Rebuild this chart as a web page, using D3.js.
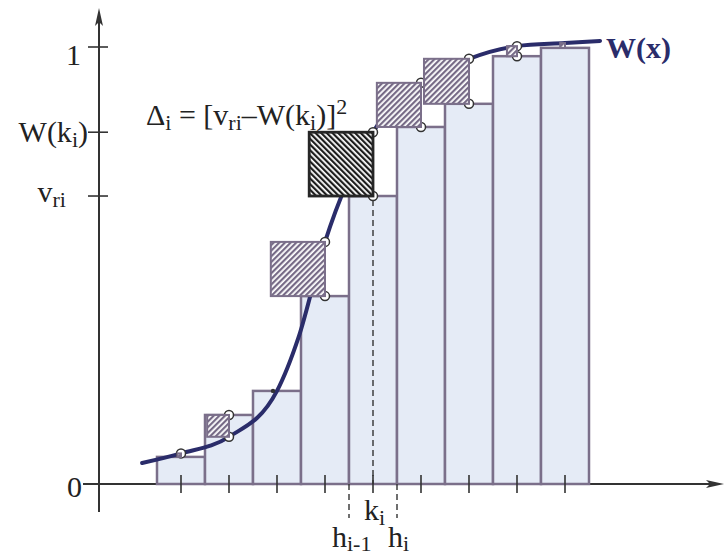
<!DOCTYPE html>
<html>
<head>
<meta charset="utf-8">
<script src="https://cdn.jsdelivr.net/npm/d3@7"></script>
<style>
  body { margin: 0; background: #fff; }
</style>
</head>
<body>
<div id="chart"></div>
<script>
// bar heights (empirical distribution v_r), one per interval h_{i-1}..h_i
var barValues = [0.062, 0.158, 0.213, 0.430, 0.659, 0.817, 0.870, 0.979, 0.998];
// W(x) read at the bar centres k_i
var curveAtCentres = [0.070, 0.108, 0.213, 0.554, 0.805, 0.918, 0.973, 1.002, 1.009];
// the whole W(x) line (x in interval units)
var curveX = [-0.31, 0.5, 1.5, 2.5, 2.95, 3.5, 4.5, 5.5, 6.5, 7.5, 8.5, 9.23];
var curveY = [0.048, 0.070, 0.108, 0.213, 0.336, 0.554, 0.805, 0.918, 0.973, 1.002, 1.009, 1.014];
var highlight = 4; // the i-th interval that is labelled

var w = 725, h = 557;

var svg = d3.select("#chart")
  .append("svg")
  .attr("width", w)
  .attr("height", h)
  .style("font-family", "'Liberation Serif', 'Times New Roman', serif");

var x = d3.scaleLinear().domain([0, 9]).range([157, 589]);
var y = d3.scaleLinear().domain([0, 1]).range([484, 47]);

var axisColor = "#333";
var barStroke = "#7b6f8a";
var barFill = "#e5ebf6";
var navy = "#2a2c6a";

// hatch patterns
var defs = svg.append("defs");
defs.append("pattern")
  .attr("id", "hatchLight")
  .attr("patternUnits", "userSpaceOnUse")
  .attr("width", 4).attr("height", 4)
  .attr("patternTransform", "rotate(45)")
  .call(function(p) {
    p.append("rect").attr("width", 4).attr("height", 4).attr("fill", "#fff");
    p.append("rect").attr("width", 2.2).attr("height", 4).attr("fill", "#766a86");
  });
defs.append("pattern")
  .attr("id", "hatchDark")
  .attr("patternUnits", "userSpaceOnUse")
  .attr("width", 4).attr("height", 4)
  .attr("patternTransform", "rotate(-45)")
  .call(function(p) {
    p.append("rect").attr("width", 4).attr("height", 4).attr("fill", "#fff");
    p.append("rect").attr("width", 2.2).attr("height", 4).attr("fill", "#1c1c1c");
  });

// axes
svg.append("line")
  .attr("x1", 83).attr("y1", y(0)).attr("x2", 716).attr("y2", y(0))
  .style("stroke", axisColor).style("stroke-width", 2);
svg.append("path")
  .attr("d", "M724," + y(0) + " L706," + (y(0) - 4) + " L710," + y(0) + " L706," + (y(0) + 4) + " Z")
  .style("fill", axisColor);
svg.append("line")
  .attr("x1", 99).attr("y1", 512).attr("x2", 99).attr("y2", 16)
  .style("stroke", axisColor).style("stroke-width", 2);
svg.append("path")
  .attr("d", "M99,8 L95,26 L99,22 L103,26 Z")
  .style("fill", axisColor);

// y ticks: 1, W(k_i), v_ri
var yTicks = [1, curveAtCentres[highlight], barValues[highlight]];
svg.append("g")
  .selectAll("line")
  .data(yTicks)
  .enter()
    .append("line")
    .attr("x1", 88).attr("x2", 108)
    .attr("y1", function(d) { return y(d); })
    .attr("y2", function(d) { return y(d); })
    .style("stroke", axisColor)
    .style("stroke-width", 1.6);

// bars
svg.append("g")
  .selectAll("rect")
  .data(barValues)
  .enter()
    .append("rect")
    .attr("x", function(d, i) { return x(i); })
    .attr("y", function(d) { return y(d); })
    .attr("width", x(1) - x(0))
    .attr("height", function(d) { return y(0) - y(d); })
    .style("fill", barFill)
    .style("stroke", barStroke)
    .style("stroke-width", 2.5);

// x ticks at the bar centres
svg.append("g")
  .selectAll("line")
  .data(barValues)
  .enter()
    .append("line")
    .attr("x1", function(d, i) { return x(i + 0.5); })
    .attr("x2", function(d, i) { return x(i + 0.5); })
    .attr("y1", y(0) - 9).attr("y2", y(0) + 9)
    .style("stroke", axisColor)
    .style("stroke-width", 1.6);

// dashed guides
var dashed = [
  { x: highlight, y1: y(0), y2: 518 },
  { x: highlight + 1, y1: y(0), y2: 518 },
  { x: highlight + 0.5, y1: y(barValues[highlight]) + 4, y2: y(0) }
];
svg.append("g")
  .selectAll("line")
  .data(dashed)
  .enter()
    .append("line")
    .attr("x1", function(d) { return x(d.x); })
    .attr("x2", function(d) { return x(d.x); })
    .attr("y1", function(d) { return d.y1; })
    .attr("y2", function(d) { return d.y2; })
    .style("stroke", axisColor)
    .style("stroke-width", 1.4)
    .style("stroke-dasharray", "6,4");

// W(x) curve
var line = d3.line()
  .x(function(d) { return x(d[0]); })
  .y(function(d) { return y(d[1]); })
  .curve(d3.curveMonotoneX);

svg.append("path")
  .datum(d3.zip(curveX, curveY))
  .attr("d", line)
  .style("fill", "none")
  .style("stroke", navy)
  .style("stroke-width", 4)
  .style("stroke-linecap", "round");

// one record per bar: bar top, curve value, square size in px
var diffs = barValues.map(function(v, i) {
  var wv = curveAtCentres[i];
  return { i: i, v: v, w: wv, size: Math.abs(y(v) - y(wv)) };
});

// small circles at bar top and curve
var pts = [];
diffs.forEach(function(d) {
  if (d.size > 6) {
    pts.push([d.i + 0.5, d.v]);
    pts.push([d.i + 0.5, d.w]);
  } else if (d.size > 1 && d.i < 8) {
    pts.push([d.i + 0.5, d.w]);
  }
});
svg.append("g")
  .selectAll("circle")
  .data(pts)
  .enter()
    .append("circle")
    .attr("cx", function(d) { return x(d[0]); })
    .attr("cy", function(d) { return y(d[1]); })
    .attr("r", 4.5)
    .style("fill", "#fff")
    .style("stroke", axisColor)
    .style("stroke-width", 1.5);
svg.append("circle")
  .attr("cx", x(2.5) - 4).attr("cy", y(barValues[2]))
  .attr("r", 2.2).style("fill", axisColor);

// squared differences drawn as squares left of k_i
svg.append("g")
  .selectAll("rect")
  .data(diffs.filter(function(d) { return d.size > 1; }))
  .enter()
    .append("rect")
    .attr("x", function(d) { return x(d.i + 0.5) - d.size; })
    .attr("y", function(d) { return Math.min(y(d.v), y(d.w)); })
    .attr("width", function(d) { return d.size; })
    .attr("height", function(d) { return d.size; })
    .style("fill", function(d) { return d.i === highlight ? "url(#hatchDark)" : "url(#hatchLight)"; })
    .style("stroke", function(d) { return d.i === highlight ? "#262626" : barStroke; })
    .style("stroke-width", function(d) { return d.i === highlight ? 2.8 : 2; });

// text
var fs = 30, sub = 22;
function label(xp, yp, anchor, parts, opts) {
  var t = svg.append("text")
    .attr("x", xp).attr("y", yp)
    .attr("text-anchor", anchor)
    .style("font-size", fs + "px")
    .style("fill", (opts && opts.fill) || "#222")
    .style("font-weight", (opts && opts.bold) ? "bold" : "normal");
  var shift = 0;
  parts.forEach(function(p) {
    var s = typeof p === "string" ? { t: p, d: 0 } : p;
    var ts = t.append("tspan").text(s.t).attr("dy", s.d - shift);
    if (s.d !== 0) ts.style("font-size", sub + "px");
    shift = s.d;
  });
  return t;
}

label(81, 65, "end", ["1"]);
label(88, 142, "end", ["W(k", { t: "i", d: 5 }, ")"]);
label(66, 202, "end", ["v", { t: "ri", d: 5 }]);
label(82, 497, "end", ["0"]);
label(146, 125, "start", ["\u0394", { t: "i", d: 5 }, " = [v", { t: "ri", d: 5 }, "\u2013W(k", { t: "i", d: 5 }, ")]", { t: "2", d: -11 }]);
label(606, 58, "start", ["W(x)"], { fill: navy, bold: true });
label(364, 520, "start", ["k", { t: "i", d: 5 }]);
label(332, 547, "start", ["h", { t: "i-1", d: 4 }]);
label(388, 547, "start", ["h", { t: "i", d: 4 }]);
</script>
</body>
</html>
